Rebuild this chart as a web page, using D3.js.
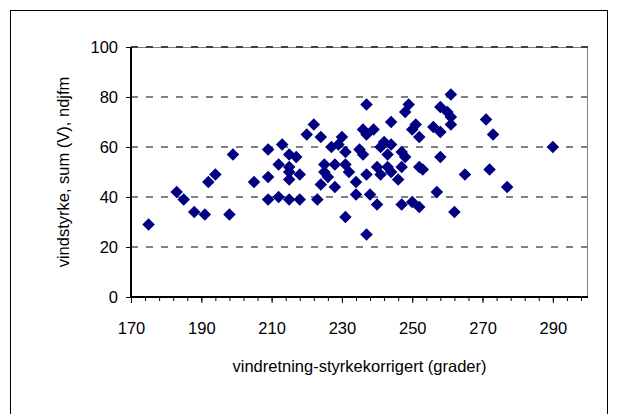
<!DOCTYPE html>
<html>
<head>
<meta charset="utf-8">
<script src="https://cdn.jsdelivr.net/npm/d3@7"></script>
<style>
  body { margin: 0; background: #fff; }
  text { font-family: "Liberation Sans", Arial, sans-serif; }
</style>
</head>
<body>
<div id="chart"></div>
<script>
// wind direction (degrees) and wind strength sum
var direction = [175, 183, 185, 188, 191, 192, 194, 198, 199, 205,
  209, 209, 209, 212, 215, 218, 213, 215, 217, 212,
  215, 215, 215, 218, 223, 220, 222, 224, 227, 225,
  228, 225, 226, 224, 228, 230, 229, 231, 231, 232,
  231, 234, 234, 236, 239, 237, 235, 236, 237, 242,
  244, 241, 243, 244, 249, 248, 247, 248, 251, 250,
  252, 256, 258, 258, 260, 261, 261, 261, 258, 240,
  243, 247, 252, 253, 237, 241, 244, 246, 257, 265,
  272, 277, 271, 273, 290, 262, 237, 247, 250, 252,
  238, 240];
var strength = [29, 42, 39, 34, 33, 46, 49, 33, 57, 46,
  48, 59, 39, 40, 39, 39, 61, 57, 56, 53,
  52, 50, 47, 49, 39, 65, 69, 64, 60, 53,
  53, 50, 48, 45, 44, 64, 61, 58, 32, 50,
  53, 46, 41, 67, 67, 65, 59, 57, 77, 62,
  61, 60, 57, 70, 77, 74, 58, 56, 69, 67,
  64, 68, 66, 76, 74, 72, 69, 81, 56, 52,
  52, 52, 52, 51, 49, 49, 50, 47, 42, 49,
  51, 44, 71, 65, 60, 34, 25, 37, 38, 36,
  41, 37];

var xTicks = [170, 190, 210, 230, 250, 270, 290];
var yTicks = [0, 20, 40, 60, 80, 100];

var width = 618, height = 414;
var plot = { left: 131, right: 588, top: 47, bottom: 297 };

var svg = d3.select("#chart").append("svg")
  .attr("width", width)
  .attr("height", height);

// chart area border
svg.append("rect")
  .attr("x", 10.5).attr("y", 10.5)
  .attr("width", 597).attr("height", 430)
  .attr("fill", "none")
  .attr("stroke", "#000")
  .attr("stroke-width", 1);

var x = d3.scaleLinear().domain([170, 300]).range([plot.left, plot.right]);
var y = d3.scaleLinear().domain([0, 100]).range([plot.bottom, plot.top]);

// plot area border (right side shows)
svg.append("rect")
  .attr("x", plot.left).attr("y", plot.top + 0.5)
  .attr("width", plot.right - plot.left - 0.5)
  .attr("height", plot.bottom - plot.top)
  .attr("fill", "none")
  .attr("stroke", "#808080");

// dashed gridlines
svg.append("g").selectAll("line")
  .data(yTicks.filter(function (d) { return d > 0; }))
  .enter().append("line")
  .attr("x1", plot.left).attr("x2", plot.right)
  .attr("y1", function (d) { return y(d); })
  .attr("y2", function (d) { return y(d); })
  .attr("stroke", function (d) { return d === 100 ? "#404040" : "#808080"; })
  .attr("stroke-width", 2)
  .attr("stroke-dasharray", "7,8");

// axes
var xAxis = svg.append("g")
  .attr("transform", "translate(0," + plot.bottom + ")")
  .call(d3.axisBottom(x).tickValues(d3.range(170, 301, 4)).tickSize(4).tickFormat(""));
xAxis.append("g")
  .call(d3.axisBottom(x).tickValues(xTicks).tickSize(6).tickPadding(19).tickFormat(d3.format("d")));
xAxis.selectAll(".domain").remove();
xAxis.selectAll("line").attr("stroke", "#000");
xAxis.selectAll("text")
  .attr("font-size", 16.5)
  .attr("fill", "#000")
  .attr("font-family", "Liberation Sans, Arial, sans-serif");

var yAxis = svg.append("g")
  .attr("transform", "translate(" + plot.left + ",0)")
  .call(d3.axisLeft(y).tickValues(yTicks).tickSize(5).tickPadding(8));
yAxis.selectAll(".domain").remove();
yAxis.selectAll("line").attr("stroke", "#000");
yAxis.selectAll("text")
  .attr("font-size", 16.5)
  .attr("fill", "#000")
  .attr("font-family", "Liberation Sans, Arial, sans-serif");

// axis lines
svg.append("line")
  .attr("x1", plot.left).attr("x2", plot.left)
  .attr("y1", plot.top).attr("y2", plot.bottom + 1)
  .attr("stroke", "#000").attr("stroke-width", 2);
svg.append("line")
  .attr("x1", plot.left - 1).attr("x2", plot.right)
  .attr("y1", plot.bottom).attr("y2", plot.bottom)
  .attr("stroke", "#000").attr("stroke-width", 2);

// diamonds
var points = direction.map(function (d, i) { return { dir: d, v: strength[i] }; });
svg.append("g").selectAll("path")
  .data(points)
  .enter().append("path")
  .attr("d", d3.symbol().type(d3.symbolDiamond2).size(100))
  .attr("transform", function (d) {
    return "translate(" + x(d.dir) + "," + y(d.v) + ")";
  })
  .attr("fill", "#000080");

// axis titles
svg.append("text")
  .attr("x", (plot.left + plot.right) / 2)
  .attr("y", 372)
  .attr("text-anchor", "middle")
  .attr("font-size", 16.5)
  .text("vindretning-styrkekorrigert (grader)");

svg.append("text")
  .attr("transform", "translate(69," + ((plot.top + plot.bottom) / 2) + ") rotate(-90)")
  .attr("text-anchor", "middle")
  .attr("font-size", 16.5)
  .text("vindstyrke, sum (V), ndjfm");
</script>
</body>
</html>
